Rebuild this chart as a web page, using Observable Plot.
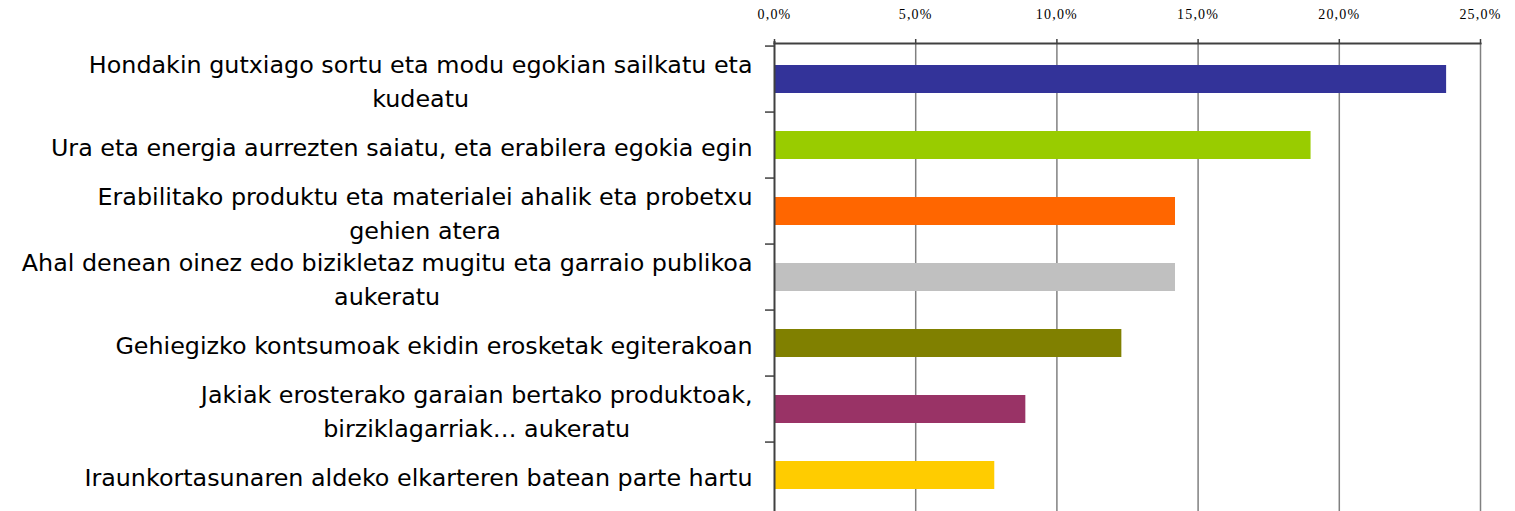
<!DOCTYPE html>
<html>
<head>
<meta charset="utf-8">
<script src="https://cdn.jsdelivr.net/npm/d3@7"></script>
<script src="https://cdn.jsdelivr.net/npm/@observablehq/plot@0.6"></script>
<style>
  html, body { margin: 0; padding: 0; background: #fff; }
</style>
</head>
<body>
<div id="chart"></div>
<script>
const categories = [
  "Hondakin gutxiago sortu eta modu egokian sailkatu eta\nkudeatu",
  "Ura eta energia aurrezten saiatu, eta erabilera egokia egin",
  "Erabilitako produktu eta materialei ahalik eta probetxu\ngehien atera",
  "Ahal denean oinez edo bizikletaz mugitu eta garraio publikoa\naukeratu",
  "Gehiegizko kontsumoak ekidin erosketak egiterakoan",
  "Jakiak erosterako garaian bertako produktoak,\nbirziklagarriak… aukeratu",
  "Iraunkortasunaren aldeko elkarteren batean parte hartu"
];
const values = [23.8, 19.0, 14.2, 14.2, 12.3, 8.9, 7.8];
const colors = ["#333399", "#99CC00", "#FF6600", "#C0C0C0", "#808000", "#993366", "#FFCC00"];
const xTicks = [0, 5, 10, 15, 20, 25];

const data = categories.map((c, i) => ({category: c, value: values[i], color: colors[i]}));

const W = 1515, H = 511;
const mTop = 43, mBottom = 0, mLeft = 774, mRight = 35;
const step = (H - mTop - mBottom) / categories.length;

const labelFont = "DejaVu Sans";
const ctx = document.createElement("canvas").getContext("2d");
ctx.font = `20px "${labelFont}"`;
const ref = ctx.measureText(categories[0].split("\n")[0]).width;
const fs = 20 * 664 / ref;
ctx.font = `${fs}px "${labelFont}"`;
const blockWidth = c => Math.max(...c.split("\n").map(l => ctx.measureText(l).width));

const labelMarks = data.map(d => Plot.text([d], {
  y: "category",
  text: "category",
  frameAnchor: "left",
  textAnchor: "middle",
  lineAnchor: "middle",
  dx: -22 - blockWidth(d.category) / 2,
  fontFamily: labelFont,
  fontSize: fs,
  lineHeight: 34 / fs,
  fill: "#000"
}));

const chart = Plot.plot({
  width: W,
  height: H,
  marginTop: mTop,
  marginBottom: mBottom,
  marginLeft: mLeft,
  marginRight: mRight,
  style: {background: "#fff"},
  x: {domain: [0, 25], label: null},
  y: {domain: categories, paddingInner: 0.58, paddingOuter: 0.29, label: null},
  marks: [
    Plot.gridX(xTicks.filter(t => t > 0), {stroke: "#808080", strokeOpacity: 1, strokeWidth: 1.5}),
    Plot.barX(data, {x: "value", y: "category", fill: "color"}),
    Plot.ruleX([0], {stroke: "#404040", strokeWidth: 2, insetTop: -2}),
    Plot.frame({anchor: "top", stroke: "#404040", strokeWidth: 2}),
    Plot.axisX({
      anchor: "top",
      ticks: xTicks,
      tickSize: 5,
      tickPadding: 20,
      label: null,
      stroke: "#404040",
      strokeWidth: 1.5,
      tickFormat: d => d.toFixed(1).replace(".", ",") + "%",
      fontFamily: "Liberation Serif",
      fontSize: 14,
      fill: "#000"
    }),
    Plot.axisY({
      anchor: "left",
      tickSize: 9,
      text: null,
      label: null,
      dy: -step / 2,
      stroke: "#404040",
      strokeWidth: 1.5
    }),
    ...labelMarks
  ]
});
chart.querySelectorAll("g[font-family='Liberation Serif'] text, text[font-family='Liberation Serif']").forEach(t => {
  t.style.letterSpacing = "1.2px";
});
document.getElementById("chart").appendChild(chart);
</script>
</body>
</html>
